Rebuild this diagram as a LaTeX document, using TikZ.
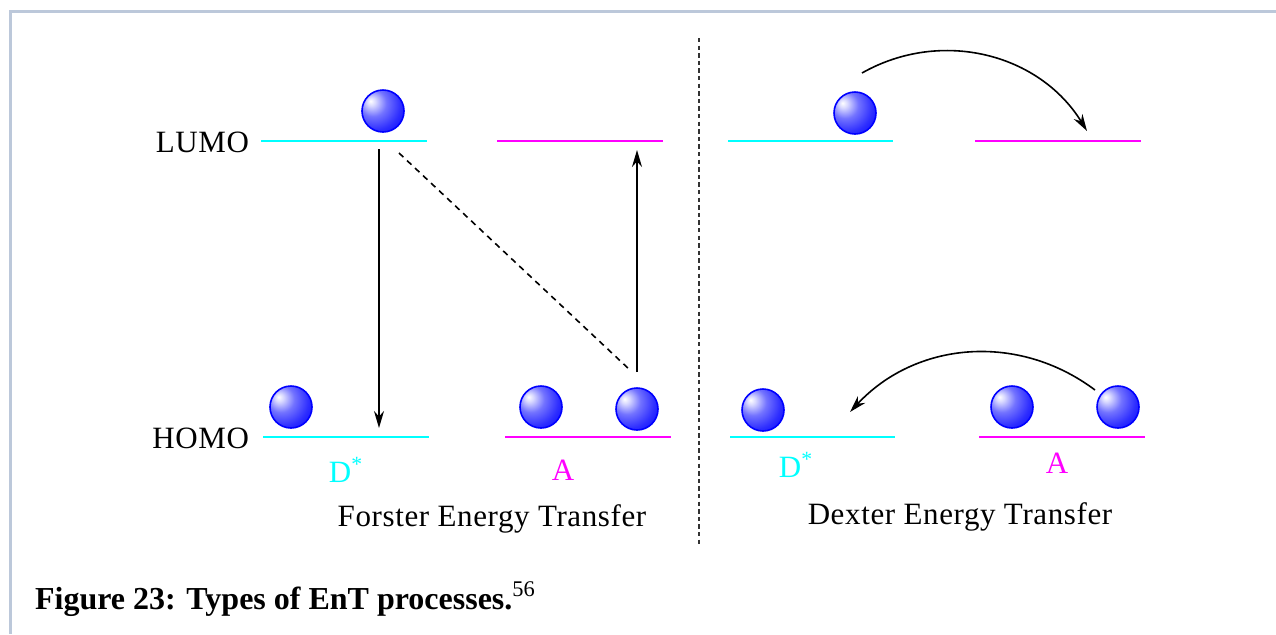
\documentclass[tikz,border=0pt]{standalone}
\usepackage{fontspec}
\setmainfont{Liberation Serif}
\usetikzlibrary{arrows.meta}
\pgfdeclareradialshading{electronball}{\pgfpoint{-15bp}{12bp}}{color(0bp)=(white);color(5bp)=(blue!15);color(16bp)=(blue!55);color(30bp)=(blue!82);color(44bp)=(blue);color(80bp)=(blue)}
\definecolor{framegray}{RGB}{188,200,218}
\definecolor{donorcyan}{RGB}{0,255,255}
\definecolor{accmagenta}{RGB}{255,0,255}

\begin{document}
\begin{tikzpicture}[x=0.5pt,y=-0.5pt,
  font=\fontsize{15.5}{18}\selectfont\addfontfeatures{LetterSpace=2},
  el/.style={circle,draw=blue,line width=0.8pt,shade,shading=electronball,minimum size=21pt,inner sep=0pt},
  donor/.style={donorcyan,line width=1pt},
  acceptor/.style={accmagenta,line width=1pt},
  jump/.style={line width=0.8pt,-{Stealth[length=8.5pt,width=5pt]}}]

\useasboundingbox (0,0) rectangle (1276,634);
\draw[framegray,line width=1.5pt] (10,634) -- (10,11) -- (1276,11);

\node[anchor=east] (lumo) at (256,142) {LUMO};
\node[anchor=east] (homo) at (256,438) {HOMO};

% Forster
\draw[donor] (261,141) -- (427,141);
\draw[acceptor] (497,141) -- (663,141);
\draw[donor] (263,437) -- (429,437);
\draw[acceptor] (505,437) -- (671,437);

\node[el] (fdl) at (383,111) {};
\node[el] (fdh) at (291,407) {};
\node[el] (fah1) at (541,407) {};
\node[el] (fah2) at (637,409) {};

\coordinate (down0) at (379,149);
\coordinate (down1) at (379,428);
\coordinate (up0) at (637,372);
\coordinate (up1) at (637,150);
\coordinate (dash0) at (399,153);
\coordinate (dash1) at (630,370);

\draw[jump] (down0) -- (down1);
\draw[jump] (up0) -- (up1);
\draw[line width=0.8pt,dash pattern=on 3pt off 2.5pt] (dash0) -- (dash1);

\node[donorcyan] (fd) at (346,470) {D\textsuperscript{*}};
\node[accmagenta] (fa) at (563,470) {A};
\node (forster) at (492,519) {Forster Energy Transfer};

% separator
\coordinate (sep0) at (699,38);
\coordinate (sep1) at (699,545);
\draw[black!80,line width=0.6pt,dash pattern=on 2.2pt off 1.6pt] (sep0) -- (sep1);

% Dexter
\draw[donor] (728,141) -- (893,141);
\draw[acceptor] (975,141) -- (1141,141);
\draw[donor] (730,437) -- (895,437);
\draw[acceptor] (979,437) -- (1145,437);

\node[el] (ddl) at (855,113) {};
\node[el] (ddh) at (763,410) {};
\node[el] (dah1) at (1012,407) {};
\node[el] (dah2) at (1118,407) {};

\coordinate (hop0) at (862,73);
\coordinate (hop1) at (1087,131);
\coordinate (back0) at (1095,390);
\coordinate (back1) at (850,412);

\draw[jump] (hop0) to[bend left=44] (hop1);
\draw[jump] (back0) to[bend right=42] (back1);

\node[donorcyan] (dd) at (796,465) {D\textsuperscript{*}};
\node[accmagenta] (da) at (1057,463) {A};
\node (dexter) at (960,517) {Dexter Energy Transfer};

\node[anchor=west,font=\fontsize{16}{19}\selectfont\bfseries] (caption) at (28,599) {Figure 23: Types of EnT processes.\textsuperscript{\mdseries 56}};

\end{tikzpicture}
\end{document}
